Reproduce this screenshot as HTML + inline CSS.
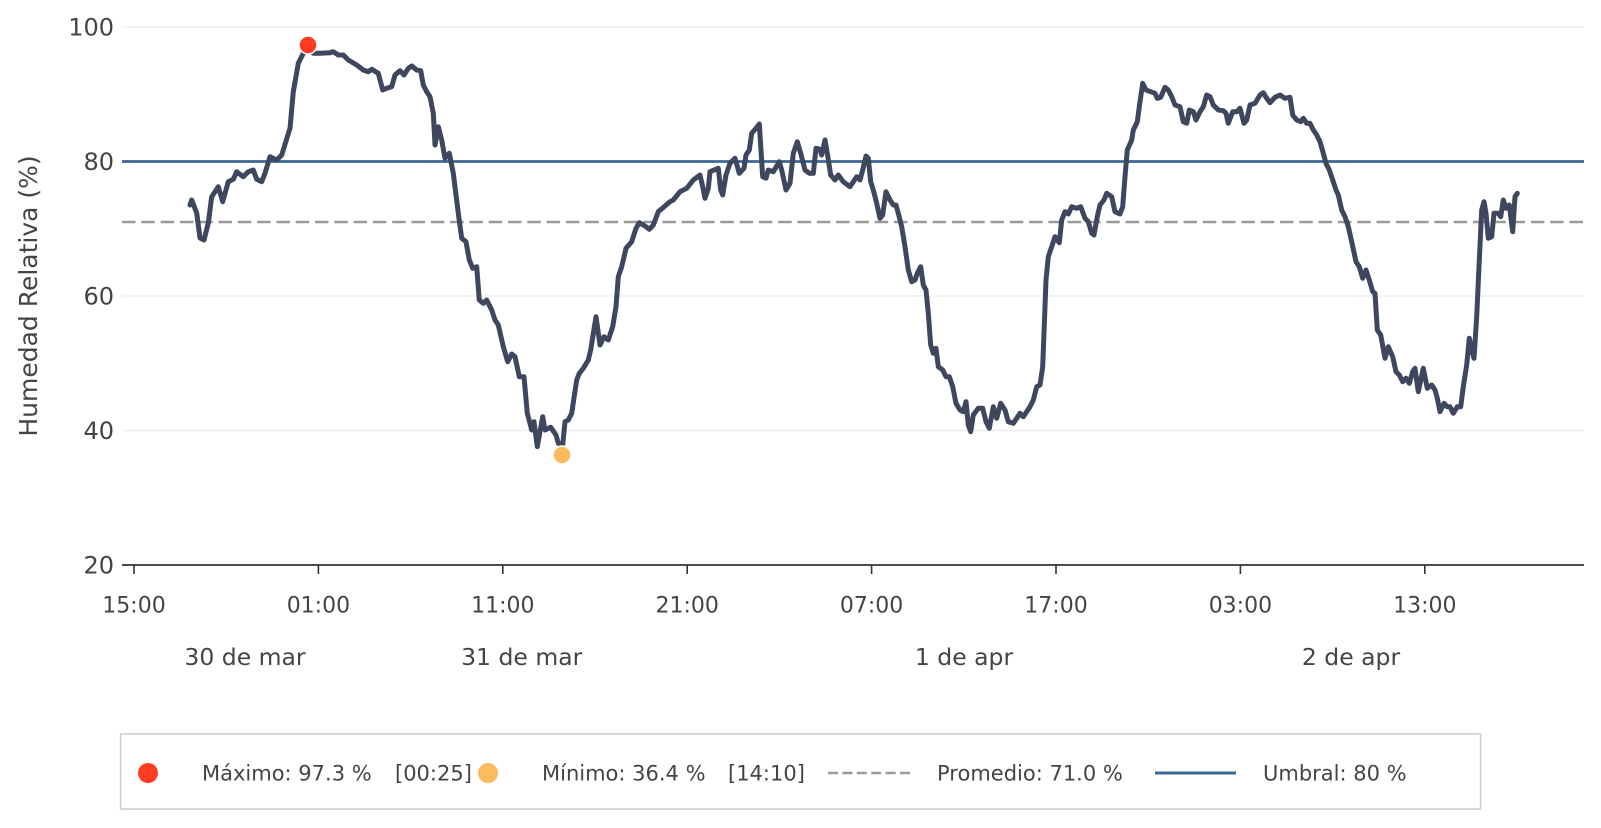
<!DOCTYPE html>
<html>
<head>
<meta charset="utf-8">
<style>
  html, body { margin:0; padding:0; background:#ffffff; }
  body { width:1601px; height:828px; overflow:hidden; }
  svg { display:block; }
  text { font-family: "DejaVu Sans", "Liberation Sans", sans-serif; fill:#444444; }
</style>
</head>
<body>
<svg width="1601" height="828" viewBox="0 0 1601 828" xmlns="http://www.w3.org/2000/svg">
  <rect x="0" y="0" width="1601" height="828" fill="#ffffff"/>

  <!-- gridlines -->
  <g stroke="#efefef" stroke-width="1.5">
    <line x1="122" y1="27" x2="1584" y2="27"/>
    <line x1="122" y1="296" x2="1584" y2="296"/>
    <line x1="122" y1="430.5" x2="1584" y2="430.5"/>
  </g>

  <!-- average dashed line -->
  <line x1="122" y1="222" x2="1584" y2="222" stroke="#9a9a9a" stroke-width="2.5" stroke-dasharray="13.5 5.8"/>
  <!-- threshold line -->
  <line x1="122" y1="161.5" x2="1584" y2="161.5" stroke="#3b6795" stroke-width="2.8"/>

  <!-- y tick labels -->
  <g font-size="24" text-anchor="end">
    <text x="114" y="35.7">100</text>
    <text x="114" y="170.2">80</text>
    <text x="114" y="304.7">60</text>
    <text x="114" y="439.2">40</text>
    <text x="114" y="573.7">20</text>
  </g>

  <!-- y axis label -->
  <text font-size="25" text-anchor="middle" transform="translate(37,296) rotate(-90)">Humedad Relativa (%)</text>

  <!-- x axis -->
  <line x1="122" y1="565" x2="1584" y2="565" stroke="#333333" stroke-width="1.8"/>
  <g stroke="#333333" stroke-width="1.6">
    <line x1="134" y1="565" x2="134" y2="574"/>
    <line x1="318.4" y1="565" x2="318.4" y2="574"/>
    <line x1="502.8" y1="565" x2="502.8" y2="574"/>
    <line x1="687.2" y1="565" x2="687.2" y2="574"/>
    <line x1="871.6" y1="565" x2="871.6" y2="574"/>
    <line x1="1056" y1="565" x2="1056" y2="574"/>
    <line x1="1240.4" y1="565" x2="1240.4" y2="574"/>
    <line x1="1424.8" y1="565" x2="1424.8" y2="574"/>
  </g>
  <g font-size="22" text-anchor="middle">
    <text x="134" y="612.5">15:00</text>
    <text x="318.4" y="612.5">01:00</text>
    <text x="502.8" y="612.5">11:00</text>
    <text x="687.2" y="612.5">21:00</text>
    <text x="871.6" y="612.5">07:00</text>
    <text x="1056" y="612.5">17:00</text>
    <text x="1240.4" y="612.5">03:00</text>
    <text x="1424.8" y="612.5">13:00</text>
  </g>
  <g font-size="23.5" text-anchor="middle">
    <text x="245" y="665">30 de mar</text>
    <text x="521.7" y="665">31 de mar</text>
    <text x="964" y="665">1 de apr</text>
    <text x="1351" y="665">2 de apr</text>
  </g>

  <!-- data line -->
  <polyline fill="none" stroke="#3f475e" stroke-width="5" stroke-linejoin="round" stroke-linecap="round" points="
190,205 191.7,200 196.7,213 200,238 204,240 208.3,223 211.7,196.7 218.3,186.7 222.7,201.7 228.3,181.7 233.3,179.3 236.7,171.7 243.3,176.7 248.3,171.7 253.3,170 256.7,179.3 261.7,181.7 265,173.3 270,156.7 276.7,160 281.7,155 290,128.3 293.3,91.7 298.3,63.3 303.3,53.3 308,47 313.3,53.3 320,53.3 330,52.7 333.3,51.7 338.3,55 343.3,55 348.3,60 356.7,65 363.3,70 368.3,71.7 371.7,69.3 378.3,73.3 382.7,90 386.7,88.3 391.7,86.7 395,75 400,70.7 404,75 408.3,68.3 411.7,66 416.7,70 420.7,70.7 423.3,85 426.7,91.7 430,96.7 433.3,113.3 435,145 438.3,126.7 441.7,140 445,158.3 449.3,153.3 453.3,173.3 458.3,213.3 461.7,238.3 466,241.7 469.3,260 472.7,268.3 476.7,266.7 479.3,300
483.3,303.3 486.7,300 491.7,310 495,320 498.3,325 503.3,346.7 507.7,361.7 511.7,354 515,356.7 519.3,376.7 524,376.7 527.3,413.3 531.7,430 534,421.7 537.3,446.7 542.7,416.7 545,430 550.7,427.3 556,435 558.3,443.3 562.7,445 565,421.7 568.3,420 571.7,413.3 576.7,380 579.3,373.3 583.3,368.3 588.3,360 590.7,350 596,316.7 600,345 604,336.7 608.3,340 612.7,326.7 616,306.7 618.3,276.7 621.7,266.7 626,248.3 631.7,241.7 636,228.3 639.3,222.7 645,226 649.3,229.3 653.3,225 658.3,211.7 665,206 670,201.7 673.3,200 680,191.7
686.7,188.3 693.3,180 700,175 702.7,186.7 705,198.3 708.3,188.3 710,171.7 718.3,168.3 720.7,190 722.7,195 726,175 730,163.3 735,158.3 739.3,173.3 744,168.3 746,155 749.3,150 751.7,133.3 756,128.3 759.3,124 762.7,176.7 766,178.3 768.3,170 773.3,171.7 777.3,165 779.3,161.7 781.7,170 786,190 790,183.3 793.3,153.3 797.3,141.7 800.7,153.3 805,170 809.3,173.3 813.3,173.3 816,148.3 820,149.3 821.7,155 825,140 827.3,153.3 830.7,175 835,180 838.3,175 843.3,181.7 850,186.7 853.3,181.7 856.7,176.7 860,180 862.7,170 866,156 868.3,158.3 870.7,181.7 873.3,190 876.7,203.3 880,218.3 882.7,215 886,191.7 890,200 893.3,205 896,205 898.3,213.3 901.7,226.7 905,246.7 908.3,270 911.7,281.7 915,280 917.3,273.3 920.7,266.7 923.3,285 926,290 928.3,313.3 930.7,345 933.3,353.3 936,348.3 938.3,366.7 942.7,370 946,376.7 949.3,376.7 952.7,386.7 956,403.3 960,410 963.3,411.7 966,401.7 968.3,425 970.7,431.7 973.3,415 978.3,408.3 982.7,408.3 986,421.7 989.3,428.3 993.3,406.7 996.7,418.3 1000.7,403.3 1005,410 1008.3,421.7 1013.3,423.3 1016.7,418.3 1020,413.3 1023.3,416.7 1026.7,411.7 1030,406.7 1033.3,400 1036.7,386.7 1040,385 1042.7,366.7
1045,306.7 1046,280 1048.3,256.7 1051.7,246.7 1055,236.7 1059.3,242.7 1061.7,220 1065,211.7 1068.3,214 1071.7,206.7 1076.7,208.3 1080.7,206.7 1085,218.3 1088.3,221.7 1091.7,233.3 1094,235 1097.3,216.7 1100,205 1104,200 1106.7,193.3 1111.7,196.7 1115,211.7 1120,214 1122.7,206.7 1125,176.7 1127.3,150 1131.7,140 1133.3,130 1137.3,121.7 1139.3,106.7 1142.7,83.3 1146,90 1150.7,91.7 1155,93.3 1157.3,98.3 1160.7,97.3 1165,87.3 1168.3,90 1171.7,96.7 1175,105 1180,106.7 1183.3,121.7 1186.7,123.3 1189.3,110 1193.3,111.7 1196,120 1200,111.7 1203.3,106.7 1206.7,95 1210,96.7 1213.3,105 1218.3,110 1223.3,110.7 1226,113.3 1228.3,123.3 1232.7,111.7 1236.7,111.7 1240,108.3 1244,123.3 1246.7,120 1250,105 1255,103.3 1260,95 1263.3,92.7 1266.7,98.3 1270,102.7 1275,97.3 1280,95 1285,98.3 1290,97.3 1292.7,115 1296.7,120 1300.7,121.7 1303.3,118.3 1306.7,123.3 1310,123.3 1313.3,130 1316.7,135 1320,141.7 1323.3,153.3 1326,163.3 1329.3,170 1332.7,180 1336,190 1338.3,195 1341.7,210 1345,216.7 1348.3,226.7 1351.7,241.7 1356,261.7 1359.3,266.7 1362.7,278.3 1366,270 1369.3,280 1372.7,291.7 1375,293.3 1377.3,330 1380.7,335 1385,358.3 1388.3,346.7 1392.7,356.7 1396,371.7 1399.3,375 1402.7,381.7 1406,378.3 1409.3,383.3 1412.7,371.7 1415,368.3 1418.3,391.7 1423.3,368.3 1427.3,388.3 1431.7,385 1435,390 1437.3,398.3 1440,411.7 1444,403.3 1447.3,406.7 1450,406.7 1453.3,413.3 1457.3,406.7 1460.7,406.7 1463.3,386.7 1466.7,365 1469.3,338.3 1471.7,350 1474,358.3 1476.7,316.7 1479.3,260 1481.7,210 1484,201.7 1486,213.3 1488.3,238.3 1491.7,236.7 1494,213.3 1498.3,213.3 1500.7,216.7 1503.3,200 1506,208.3 1509.3,205 1512.7,231.7 1515,196.7 1517.3,193.3"/>

  <!-- max / min markers -->
  <circle cx="308" cy="45" r="9" fill="#ff3b22" stroke="#ffffff" stroke-width="1.5"/>
  <circle cx="562" cy="455" r="9" fill="#fdbb5f" stroke="#ffffff" stroke-width="1.5"/>

  <!-- legend -->
  <rect x="120.5" y="734" width="1360" height="75" fill="#ffffff" stroke="#cccccc" stroke-width="1.5"/>
  <circle cx="148" cy="773" r="10" fill="#ff3b22"/>
  <circle cx="488" cy="773" r="10" fill="#fdbb5f"/>
  <line x1="828" y1="773" x2="910" y2="773" stroke="#9a9a9a" stroke-width="2.5" stroke-dasharray="10 4.4"/>
  <line x1="1155" y1="773" x2="1236" y2="773" stroke="#3b6795" stroke-width="3"/>
  <g font-size="21">
    <text x="202" y="780.6">Máximo: 97.3 %</text>
    <text x="395" y="780.6">[00:25]</text>
    <text x="542" y="780.6">Mínimo: 36.4 %</text>
    <text x="728" y="780.6">[14:10]</text>
    <text x="937" y="780.6">Promedio: 71.0 %</text>
    <text x="1263" y="780.6">Umbral: 80 %</text>
  </g>
</svg>
</body>
</html>
